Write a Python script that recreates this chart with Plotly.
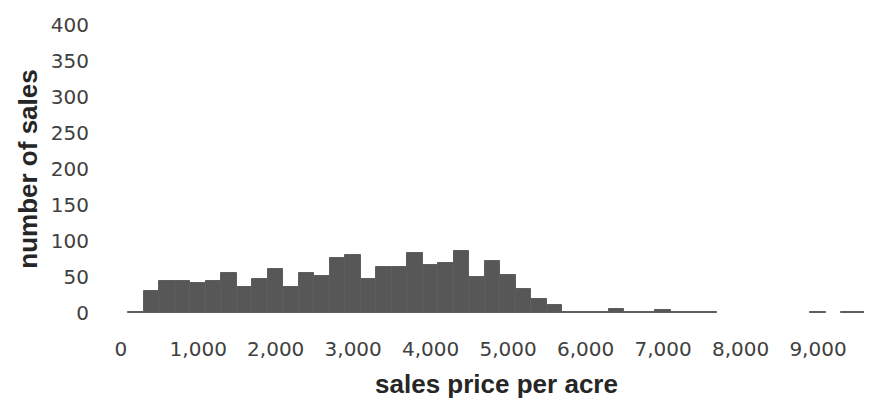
import plotly.graph_objects as go

# bin centers (sales price per acre) and counts
bin_centers = [0, 200, 400, 600, 800, 1000, 1200, 1400, 1600, 1800,
               2000, 2200, 2400, 2600, 2800, 3000, 3200, 3400, 3600, 3800,
               4000, 4200, 4400, 4600, 4800, 5000, 5200, 5400, 5600, 5800,
               6000, 6200, 6400, 6600, 6800, 7000, 7200, 7400, 7600, 7800,
               8000, 8200, 8400, 8600, 8800, 9000, 9200, 9400, 9600, 9800]
counts = [0, 1, 31, 45, 45, 42, 45, 55, 36, 47,
          61, 36, 55, 52, 77, 80, 47, 64, 64, 84,
          67, 69, 86, 50, 72, 53, 33, 19, 11, 2,
          2, 2, 5, 1, 1, 4, 1, 1, 1, 0,
          0, 0, 0, 0, 0, 1, 0, 1, 1, 1]

x_tick_vals = [0, 1000, 2000, 3000, 4000, 5000, 6000, 7000, 8000, 9000]
x_tick_text = ["0", "1,000", "2,000", "3,000", "4,000", "5,000", "6,000", "7,000", "8,000", "9,000"]
y_tick_vals = [0, 50, 100, 150, 200, 250, 300, 350, 400]

outline_widths = [0 if c == 0 else 1 for c in counts]

fig = go.Figure(go.Bar(
    x=bin_centers, y=counts, width=200,
    marker=dict(color="#575757", line=dict(color="#5e5e5e", width=outline_widths)),
))

fig.update_layout(
    width=872, height=400,
    margin=dict(l=105, r=0, t=17, b=95),
    paper_bgcolor="white", plot_bgcolor="white",
    bargap=0, showlegend=False,
    font=dict(family="DejaVu Sans", size=20, color="#404040"),
)
fig.update_xaxes(
    range=[-100, 9800], tickvals=x_tick_vals, ticktext=x_tick_text,
    showgrid=False, zeroline=False, showline=False, ticks="",
    ticklabelstandoff=22,
    title=dict(text="<b>sales price per acre</b>", standoff=14,
               font=dict(family="Liberation Sans", size=26, color="#262626")),
)
fig.update_yaxes(
    range=[0, 400], tickvals=y_tick_vals,
    showgrid=False, zeroline=False, showline=False, ticks="",
    ticklabelstandoff=23,
    title=dict(text="<b>number of sales</b>", standoff=5,
               font=dict(family="Liberation Sans", size=26, color="#262626")),
)

fig.write_html("out.html")
